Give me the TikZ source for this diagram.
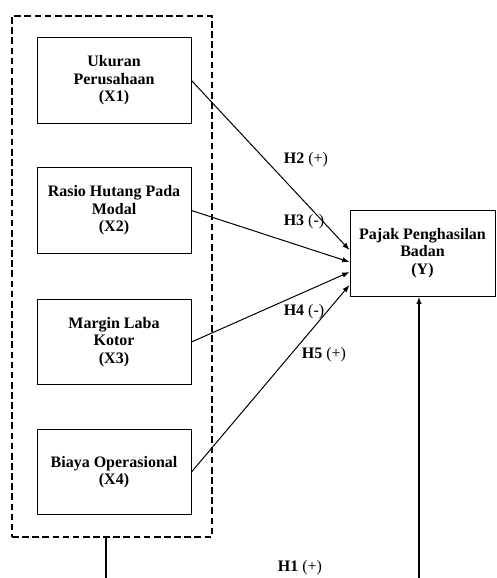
\documentclass[tikz,border=0pt]{standalone}
\usepackage{fontspec}
\setmainfont{Liberation Serif}
\usetikzlibrary{arrows.meta,calc}

\begin{document}
\begin{tikzpicture}[x=0.75pt,y=-0.75pt,
  every node/.append style={inner sep=0pt,font=\fontsize{12}{13.2}\selectfont},
  varbox/.style={draw,line width=0.75pt,minimum width=115.5pt,minimum height=64pt,align=center,font=\fontsize{12}{13.2}\selectfont\bfseries},
  hyp/.style={line width=0.75pt,-{Latex[length=5.5pt,width=4pt]}}]
\useasboundingbox (0,0) rectangle (496,578);
% dashed group of independent variables
\node [draw,line width=2pt,dash pattern=on 5pt off 2.6pt,minimum width=150pt,minimum height=390.75pt] (grp) at (112,276.5) {};
\node [varbox] (x1) at (114,80.5) {Ukuran\\Perusahaan\\(X1)};
\node [varbox] (x2) at (114,210.5) {Rasio Hutang Pada\\Modal\\(X2)};
\node [varbox] (x3) at (114,342) {Margin Laba\\Kotor\\(X3)};
\node [varbox] (x4) at (114,472) {Biaya Operasional\\(X4)};
\node [varbox,minimum width=108.75pt,minimum height=64.5pt] (y) at (422.5,253) {Pajak Penghasilan\\Badan\\(Y)};
% hypotheses
\draw [hyp] (x1.east) -- ($(y.west)+(0,-3)$);
\draw [hyp] (x2.east) -- ($(y.west)+(0,9)$);
\draw [hyp] (x3.east) -- ($(y.west)+(0,19)$);
\draw [hyp] (x4.east) -- ($(y.west)+(0,32)$);
\node (h2) at (306,160) {\textbf{H2} (+)};
\node (h3) at (304,222) {\textbf{H3} (-)};
\node (h4) at (304,312) {\textbf{H4} (-)};
\node (h5) at (324,355) {\textbf{H5} (+)};
% simultaneous path
\coordinate (b1) at (106,578);
\coordinate (b2) at (419,578);
\draw [line width=2pt] (b1 |- grp.south) -- (b1);
\draw [line width=1.3pt,-{Latex[length=5.5pt,width=4pt]}] (b2) -- (b2 |- y.south);
\node (h1) at (300,568) {\textbf{H1} (+)};
\end{tikzpicture}
\end{document}
